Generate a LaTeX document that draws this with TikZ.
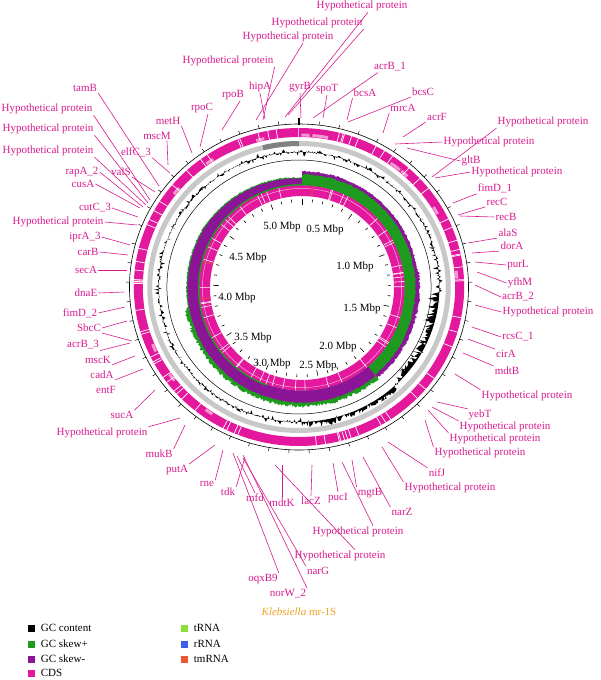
\documentclass[tikz,border=0pt]{standalone}
\usepackage{fontspec}
\setmainfont{Liberation Serif}
\usepackage{xcolor}
\usetikzlibrary{positioning}
\definecolor{genepink}{HTML}{D81A8E}
\definecolor{cdspink}{HTML}{E4189C}
\definecolor{skewgreen}{HTML}{1E9A1E}
\definecolor{skewpurple}{HTML}{8C1496}
\definecolor{trnagreen}{HTML}{88E03C}
\definecolor{rrnablue}{HTML}{3E5EE8}
\definecolor{tmrnared}{HTML}{EE5530}
\definecolor{titleorange}{HTML}{F0A020}
\definecolor{ringgray}{HTML}{C8C8C8}

\tikzset{
  gene/.style={text=genepink, font=\fontsize{11}{12}\selectfont, inner sep=1pt},
  lead/.style={genepink, line width=0.6pt},
  mbp/.style={font=\fontsize{11}{12}\selectfont, inner sep=0pt},
  legbox/.style={minimum size=7pt, inner sep=0pt},
  legtext/.style={font=\fontsize{11}{12}\selectfont, inner sep=0pt},
}

\begin{document}
\begin{tikzpicture}[x=1pt, y=-1pt]
  \useasboundingbox (0,0) rectangle (600,680);
  \pgfmathsetseed{7}

  % Inner rings: GC skew, CDS, scale ticks
  \begin{scope}[shift={(302,288)}]
    \fill[skewpurple] plot[domain=0:140, samples=280, variable=\t] (\t-90:{116+1.5*rnd+(\t>80)*1.5*rnd}) -- (50:102.5) arc[start angle=50, end angle=-90, radius=102.5] -- cycle;
    \fill[skewgreen] plot[domain=0:140, samples=280, variable=\t] (\t-90:{112.7+1.6*rnd}) -- (50:102.5) arc[start angle=50, end angle=-90, radius=102.5] -- cycle;
    \fill[skewgreen] plot[domain=140:360, samples=440, variable=\t] (\t-90:{115-(\t>300)*(\t-300)/12+(\t<260)*(1+3.5*rnd)+1.2*rnd}) -- (270:102.5) arc[start angle=270, end angle=50, radius=102.5] -- cycle;
    \fill[skewpurple] plot[domain=140:360, samples=440, variable=\t] (\t-90:{113.9-(\t>300)*(\t-300)/12+1.2*rnd}) -- (270:102.5) arc[start angle=270, end angle=50, radius=102.5] -- cycle;
    \draw[skewgreen, line width=1.6pt] (110:103.3) arc[start angle=110, end angle=270, radius=103.3];

    \draw[cdspink, line width=10.5pt] (0,0) circle[radius=97.25];
    \draw[cdspink!35, line width=0.5pt] (0,0) circle[radius=99.6];
    \foreach \k in {1,...,50} {
      \pgfmathsetmacro\gapang{360*rnd-90}
      \draw[white, line width=0.6pt] (\gapang:92) -- (\gapang:102.5);
    }
    \foreach \a in {-84,174,195} {
      \draw[tmrnared!60!cdspink, line width=1.2pt] (\a:92) -- (\a:102.5);
    }
    \foreach \k in {0,...,52} {
      \pgfmathsetmacro\tl{ifthenelse(mod(\k,5)==0,83.5,86)}
      \draw[line width=0.6pt] (\k*6.792-90:89) -- (\k*6.792-90:\tl);
    }
  \end{scope}

  % Outer rings: GC content, backbone, CDS, ticks
  \begin{scope}[shift={(299,287)}, x=1.04pt]
    \draw[line width=0.5pt] (0,0) circle[radius=127];
    \fill[black, even odd rule] plot[domain=0:360, samples=720, variable=\t] (\t-90:{133.8+2.4*rnd+4*(2*rnd-1)^3-(\t>92)*(\t<135)*(1+9*rnd^2)+(\t>138)*(\t<178)*(1+6*rnd^2)}) -- cycle (0,0) circle[radius=135];

    \draw[ringgray, line width=5pt] (0,0) circle[radius=143.5];
    \draw[gray, line width=5pt] (-104:143.5) arc[start angle=-104, end angle=-90, radius=143.5];

    \draw[cdspink, line width=9pt] (0,0) circle[radius=154.5];
    \foreach \k in {1,...,14} {
      \pgfmathsetmacro\segang{360*rnd-90}
      \draw[cdspink!45, line width=3pt] (\segang:152) arc[start angle=\segang, end angle=\segang+3, radius=152];
    }
    \foreach \k in {1,...,75} {
      \pgfmathsetmacro\gapang{360*rnd-90}
      \draw[white, line width=0.7pt] (\gapang:150) -- (\gapang:159);
    }

    \draw[line width=0.6pt] (0,0) circle[radius=163];
    \foreach \k in {0,...,52} {
      \draw[line width=0.5pt] (\k*6.792-90:163) -- (\k*6.792-90:166.5);
    }
    \draw[line width=2.2pt] (-90:162) -- (-90:169);
  \end{scope}

  % Scale labels
  \foreach \i/\m/\x/\y in {1/5.0/282/227, 2/0.5/325/230, 3/1.0/355/267, 4/1.5/362/309, 5/2.0/338/347,
                           6/2.5/318/366, 7/3.0/272/364, 8/3.5/253/338, 9/4.0/237/298, 10/4.5/248/258} {
    \node[mbp] (mb\i) at (\x,\y) {\m~Mbp};
  }

  % Gene labels
  \foreach \n/\x/\y/\an/\dx/\ex/\ey/\t in {
    % top
    t1/362/6/south/6/285/117/Hypothetical protein,
    t2/317/23/south east/0/288/115/Hypothetical protein,
    t3/288/37/south/15/256/120/Hypothetical protein,
    t4/228/61/south east/0/263/120/Hypothetical protein,
    t5/260/87/south/0/265/119/hipA,
    t6/300/87/south/0/301/118/gyrB,
    t7/327/89/south/0/323/118/spoT,
    t8/390/67/south west/5/313/118/acrB\_1,
    t9/365/93/south west/0/347/120/bcsA,
    t10/423/92/south west/0/348/122/bcsC,
    t11/403/108/south west/0/383/133/mrcA,
    t12/437/117/south west/0/403/137/acrF,
    % right
    r1/543/122/south west/0/432/177/Hypothetical protein,
    r2/489/142/west/0/395/144/Hypothetical protein,
    r3/471/161/west/0/407/148/gltB,
    r4/517/172/west/0/435/178/Hypothetical protein,
    r5/495/188/south west/0/453/203/fimD\_1,
    r6/497/202/south west/0/458/215/recC,
    r7/506/217/west/0/460/216/recB,
    r8/508/233/south west/0/468/243/alaS,
    r9/512/246/south west/0/472/253/dorA,
    r10/518/265/west/0/475/262/purL,
    r11/520/283/west/0/477/272/yfhM,
    r12/518/297/west/0/475/285/acrB\_2,
    r13/548/312/west/0/475/305/Hypothetical protein,
    r14/518/337/west/0/472/327/rcsC\_1,
    r15/506/354/north west/0/468/339/cirA,
    r16/507/371/north west/0/463/353/mdtB,
    r17/527/396/north west/0/455/374/Hypothetical protein,
    r18/480/415/north west/0/437/402/yebT,
    r19/505/427/north west/0/432/407/Hypothetical protein,
    r20/495/439/north west/0/428/410/Hypothetical protein,
    r21/480/453/north west/0/425/420/Hypothetical protein,
    r22/437/473/north west/0/388/442/nifJ,
    r23/450/488/north west/0/382/447/Hypothetical protein,
    % bottom
    b1/358/532/north/15/342/462/Hypothetical protein,
    b2/370/493/north west/0/352/460/mgtB,
    b3/402/512/north west/0/363/457/narZ,
    b4/338/498/north/0/333/463/pucI,
    b5/311/501/north/0/312/465/lacZ,
    b6/282/503/north/0/282/465/mdtK,
    b7/340/556/north/15/275/465/Hypothetical protein,
    b8/318/571/north west/0/243/458/narG,
    b9/263/579/north east/0/233/453/oqxB9,
    b10/288/594/north east/0/243/455/norW\_2,
    b11/255/498/north/0/237/456/mfd,
    b12/228/492/north east/0/245/457/tdk,
    b13/207/484/north east/0/223/450/rne,
    b14/177/470/north east/0/215/445/putA,
    b15/159/454/north east/0/185/425/mukB,
    % left
    b16/102/433/north east/0/180/418/Hypothetical protein,
    b17/122/415/north east/0/155/390/sucA,
    b18/102/375/south east/0/143/369/cadA,
    b19/98/360/south east/0/135/356/mscK,
    b20/83/345/south east/0/130/343/acrB\_3,
    b21/89/328/east/0/127/321/SbcC,
    b22/80/313/east/0/125/307/fimD\_2,
    b23/86/293/east/0/124/292/dnaE,
    b24/86/270/east/0/127/270/secA,
    b25/88/252/east/0/128/255/carB,
    b26/85/237/east/0/130/245/iprA\_3,
    b27/58/222/east/0/137/225/Hypothetical protein,
    b28/95/208/east/0/138/217/cutC\_3,
    b29/83/184/east/0/140/208/cusA,
    b30/82/172/east/0/143/207/rapA\_2,
    b31/121/172/south east/0/155/192/valS,
    b32/48/151/south east/0/146/205/Hypothetical protein,
    b33/48/129/south east/0/148/203/Hypothetical protein,
    b34/47/109/south east/0/150/200/Hypothetical protein,
    b35/85/88/south east/0/159/186/tamB,
    b36/136/152/south east/0/170/173/elfC\_3,
    b37/157/136/south/10/168/165/mscM,
    b38/168/121/south east/0/192/153/metH,
    b39/202/108/south/6/200/147/rpoC,
    b40/233/95/south/7/222/130/rpoB%
  }{
    \node[gene] (l\n) at (\x,\y) {\t};
    \coordinate (e\n) at (\ex,\ey);
    \draw[lead] ([xshift=\dx pt]l\n.\an) -- (e\n);
  }
  \node[gene] (lentF) at (106,390) {entF};
  \coordinate (eb21b) at (132,341);
  \draw[lead] (lb21.south east) -- (eb21b);

  % Title and legend
  \node[font=\fontsize{11}{12}\selectfont, text=titleorange] (title) at (299,612) {\textit{Klebsiella} mr-1S};
  \node[legbox, fill=black] (k1) at (31,628) {};
  \node[legtext, right=6pt of k1] (kt1) {GC content};
  \node[legbox, fill=skewgreen] (k2) at (31,644) {};
  \node[legtext, right=6pt of k2] (kt2) {GC skew+};
  \node[legbox, fill=skewpurple] (k3) at (31,659) {};
  \node[legtext, right=6pt of k3] (kt3) {GC skew-};
  \node[legbox, fill=cdspink] (k4) at (31,673) {};
  \node[legtext, right=6pt of k4] (kt4) {CDS};
  \node[legbox, fill=trnagreen] (k5) at (184,628) {};
  \node[legtext, right=6pt of k5] (kt5) {tRNA};
  \node[legbox, fill=rrnablue] (k6) at (184,644) {};
  \node[legtext, right=6pt of k6] (kt6) {rRNA};
  \node[legbox, fill=tmrnared] (k7) at (184,659) {};
  \node[legtext, right=6pt of k7] (kt7) {tmRNA};
\end{tikzpicture}
\end{document}
